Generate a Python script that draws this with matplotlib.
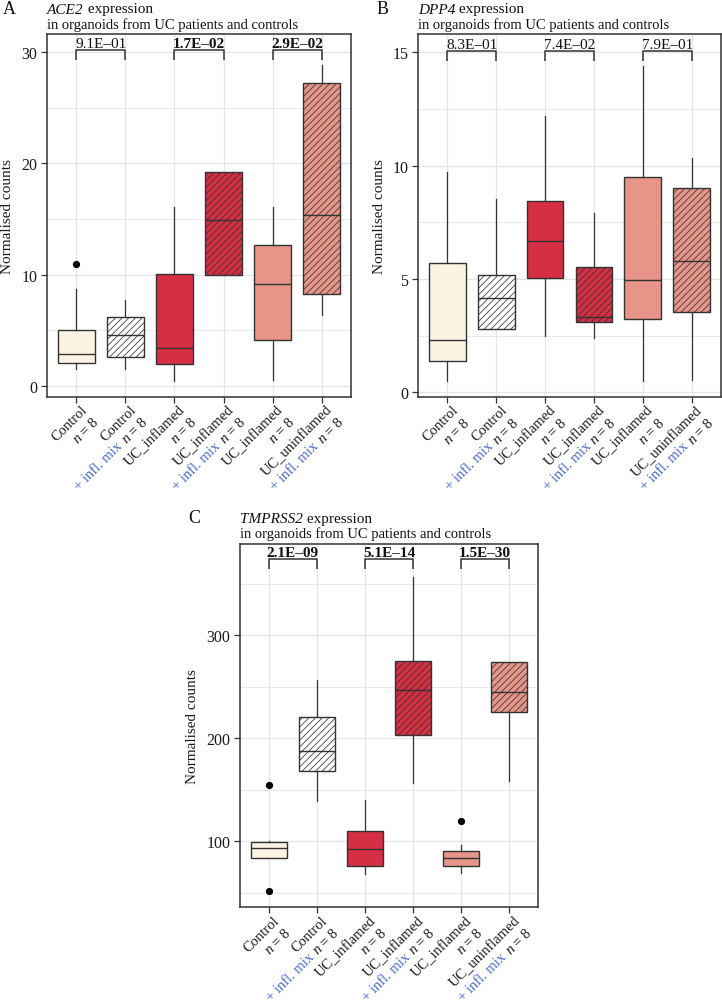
import matplotlib
matplotlib.use("Agg")
import matplotlib.pyplot as plt
from matplotlib.transforms import offset_copy
from matplotlib.ticker import MultipleLocator
import numpy as np

plt.rcParams['font.family'] = ['Liberation Serif', 'DejaVu Serif']
plt.rcParams['mathtext.fontset'] = 'custom'
plt.rcParams['mathtext.rm'] = 'Liberation Serif'
plt.rcParams['mathtext.it'] = 'Liberation Serif:italic'
plt.rcParams['hatch.linewidth'] = 0.55

# ---------------- data ----------------
categories = ["Control", "Control", "UC_inflamed", "UC_inflamed", "UC_inflamed", "UC_uninflamed"]
infl_mix = [False, True, False, True, False, True]
n_samples = [8, 8, 8, 8, 8, 8]

ace2_whislo = [1.5, 1.5, 0.45, 10.0, 0.5, 6.4]
ace2_q1 = [2.1, 2.6, 1.95, 10.0, 4.13, 8.27]
ace2_med = [2.9, 4.6, 3.4, 14.9, 9.13, 15.36]
ace2_q3 = [5.06, 6.2, 10.06, 19.2, 12.67, 27.2]
ace2_whishi = [8.7, 7.7, 16.1, 19.2, 16.1, 28.8]
ace2_fliers = [[11.0], [], [], [], [], []]
ace2_p = [9.1e-01, 1.7e-02, 2.9e-02]

dpp4_whislo = [0.51, 2.79, 2.47, 2.4, 0.51, 0.56]
dpp4_q1 = [1.37, 2.79, 5.04, 3.09, 3.23, 3.53]
dpp4_med = [2.3, 4.16, 6.69, 3.34, 4.95, 5.78]
dpp4_q3 = [5.69, 5.19, 8.43, 5.51, 9.51, 9.0]
dpp4_whishi = [9.7, 8.53, 12.2, 7.9, 14.4, 10.34]
dpp4_fliers = [[], [], [], [], [], []]
dpp4_p = [8.3e-01, 7.4e-02, 7.9e-01]

tmprss2_whislo = [83.8, 139.4, 68.3, 156.3, 69.2, 158.8]
tmprss2_q1 = [83.8, 168.5, 76.3, 203.5, 76.3, 225.2]
tmprss2_med = [93.2, 187.4, 92.8, 246.9, 83.5, 244.7]
tmprss2_q3 = [99.0, 220.4, 109.7, 275.3, 90.9, 273.8]
tmprss2_whishi = [100.0, 256.6, 140.1, 356.9, 96.4, 273.8]
tmprss2_fliers = [[154.7, 52.0], [], [], [], [119.4], []]
tmprss2_p = [2.1e-09, 5.1e-14, 1.5e-30]

# ---------------- style ----------------
fills = ["#FCF3E3", "#FFFFFF", "#D62E42", "#D62E42", "#E69588", "#E69588"]
edge = "#333333"
blue = "#4767C4"
grid_c = "#E5E5E5"
FS = 10.5
TFS = 11.0
XFS = 10.5

W, H = 722, 1004
fig = plt.figure(figsize=(W / 100, H / 100), dpi=100)
fig.patch.set_facecolor("white")


def px_axes(l, t, r, b):
    return fig.add_axes([l / W, 1 - b / H, (r - l) / W, (b - t) / H])


panels = [
    dict(gene="ACE2", letter="A", box=(47, 35, 351, 397.5), ylim=(-0.94, 31.62), major=10, minor=5,
         stats=(ace2_whislo, ace2_q1, ace2_med, ace2_q3, ace2_whishi, ace2_fliers), p=ace2_p,
         title_y=(13.5, 28.5), letter_x=3, ylab_x=14),
    dict(gene="DPP4", letter="B", box=(418, 35, 721, 398), ylim=(-0.21, 15.81), major=5, minor=2.5,
         stats=(dpp4_whislo, dpp4_q1, dpp4_med, dpp4_q3, dpp4_whishi, dpp4_fliers), p=dpp4_p,
         title_y=(13.5, 28.5), letter_x=377, ylab_x=386),
    dict(gene="TMPRSS2", letter="C", box=(240, 545, 538, 908.3), ylim=(35.9, 388.6), major=100, minor=50,
         stats=(tmprss2_whislo, tmprss2_q1, tmprss2_med, tmprss2_q3, tmprss2_whishi, tmprss2_fliers),
         p=tmprss2_p, title_y=(523.3, 538.3), letter_x=188, ylab_x=199),
]

renderer = fig.canvas.get_renderer()


def text_width(s, fs=FS, **kw):
    t = fig.text(0, 0, s, fontsize=fs, **kw)
    w = t.get_window_extent(renderer).width
    t.remove()
    return w


for P in panels:
    l, t, r, b = P["box"]
    ax = px_axes(l, t, r, b)
    whislo, q1, med, q3, whishi, fliers = P["stats"]
    stats = []
    for i in range(len(categories)):
        stats.append(dict(whislo=whislo[i], q1=q1[i], med=med[i], q3=q3[i],
                          whishi=whishi[i], fliers=fliers[i]))
    positions = np.arange(1, len(categories) + 1)
    bp = ax.bxp(stats, positions=positions, widths=0.75, patch_artist=True, showcaps=False,
                boxprops=dict(edgecolor=edge, linewidth=1.0),
                medianprops=dict(color=edge, linewidth=1.0),
                whiskerprops=dict(color=edge, linewidth=0.9),
                flierprops=dict(marker='o', markerfacecolor='black', markeredgecolor='black',
                                markersize=4.2, linestyle='none'),
                zorder=3)
    for i, patch in enumerate(bp["boxes"]):
        patch.set_facecolor(fills[i])
        patch.set_edgecolor(edge)
        if infl_mix[i]:
            patch.set_hatch("/////")

    ax.set_xlim(0.4, len(categories) + 0.6)
    ax.set_ylim(*P["ylim"])
    ax.yaxis.set_major_locator(MultipleLocator(P["major"]))
    ax.yaxis.set_minor_locator(MultipleLocator(P["minor"]))
    ax.set_xticks(positions)
    ax.set_xticklabels([])
    ax.grid(True, which="major", color=grid_c, linewidth=0.9, zorder=0)
    ax.grid(True, which="minor", axis="y", color=grid_c, linewidth=0.6, zorder=0)
    ax.set_axisbelow(True)
    for s in ax.spines.values():
        s.set_color(edge)
        s.set_linewidth(1.1)
    ax.tick_params(axis="both", which="major", length=4.5, width=0.9, color=edge,
                   labelsize=11.5, labelcolor="#1a1a1a", pad=2.5)
    ax.tick_params(axis="y", which="minor", length=0)
    ax.set_ylabel("Normalised counts", fontsize=FS + 0.5, color="#1a1a1a")
    ax.yaxis.set_label_coords((P["ylab_x"] - l) / (r - l), 0.5)

    # significance brackets
    top = max(max(whishi), max([max(f) if f else 0 for f in fliers]))
    ybr = top * 1.047
    leg = (P["ylim"][1] - P["ylim"][0]) * 10 / (b - t)
    for k, pv in enumerate(P["p"]):
        x1, x2 = 2 * k + 1, 2 * k + 2
        ax.plot([x1, x1, x2, x2], [ybr - leg, ybr, ybr, ybr - leg], color=edge, lw=1.1,
                solid_capstyle="butt", zorder=4, clip_on=False)
        label = f"{pv:.1E}".replace("-", "\u2013")
        tr = offset_copy(ax.transData, fig=fig, x=0, y=3.0, units="dots")
        ax.text((x1 + x2) / 2, ybr, label, transform=tr, ha="center", va="baseline",
                fontsize=TFS, fontweight="bold" if pv < 0.05 else "normal", color="#111111",
                zorder=5)

    # custom two-line rotated x labels
    base = ax.get_xaxis_transform()
    L1X, L1Y, LS = 4, -6, 11.5
    c45 = np.cos(np.pi / 4)
    for i, (cat, mix, n) in enumerate(zip(categories, infl_mix, n_samples)):
        x = positions[i]
        t1 = offset_copy(base, fig=fig, x=L1X, y=L1Y, units="dots")
        ax.text(x, 0, cat, transform=t1, rotation=45, rotation_mode="anchor",
                ha="right", va="top", fontsize=XFS, color="#1a1a1a", clip_on=False)
        nline = f"$n$ = {n}"
        t2 = offset_copy(base, fig=fig, x=L1X + LS, y=L1Y - LS, units="dots")
        ax.text(x, 0, nline, transform=t2, rotation=45, rotation_mode="anchor",
                ha="right", va="top", fontsize=XFS, color="#1a1a1a", clip_on=False)
        if mix:
            w = text_width(nline, XFS) + XFS * 100 / 72 * 0.25
            d = w * c45
            t3 = offset_copy(base, fig=fig, x=L1X + LS - d, y=L1Y - LS - d, units="dots")
            ax.text(x, 0, "+ infl. mix", transform=t3, rotation=45, rotation_mode="anchor",
                    ha="right", va="top", fontsize=XFS, color=blue, clip_on=False)

    # titles and panel letters
    y1, y2 = P["title_y"]
    fig.text(l / W, 1 - y1 / H, P["gene"], fontsize=TFS, style="italic",
             ha="left", va="baseline", color="#111111")
    gw = text_width(P["gene"], TFS, style="italic")
    fig.text((l + gw) / W, 1 - y1 / H, " expression", fontsize=TFS,
             ha="left", va="baseline", color="#111111")
    fig.text(l / W, 1 - y2 / H, "in organoids from UC patients and controls", fontsize=FS,
             ha="left", va="baseline", color="#111111")
    fig.text(P["letter_x"] / W, 1 - y1 / H, P["letter"], fontsize=13, ha="left",
             va="baseline", color="#111111")

fig.savefig("out.png", dpi=100, facecolor="white")
